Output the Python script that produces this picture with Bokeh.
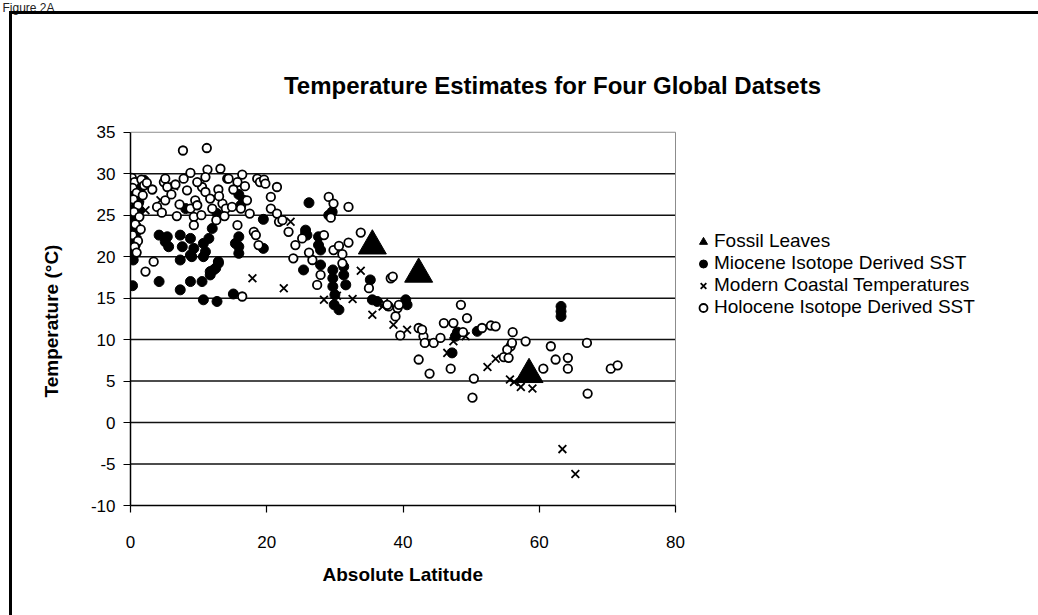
from bokeh.plotting import figure
from bokeh.models import (Range1d, FixedTicker, Label, Legend, LegendItem, Title, InlineStyleSheet,
                          PrintfTickFormatter)
from bokeh.embed import file_html
from bokeh.resources import INLINE

# ---------------- data ----------------
fossil_lat = [35.5, 42.3, 58.5]
fossil_temp = [21.3, 17.9, 5.8]

miocene_lat = [0.3, 0.2, 0.5, 0.3, 0.6, 0.2, 0.8, 0.4, 1.0, 0.6, 1.2, 0.8, 1.4, 1.7, 2.0, 0.4,
               0.1, 0.9, 0.3, 1.1, 0.5, 0.7, 1.3,
               4.2, 5.4, 5.1, 5.6, 7.3, 8.8, 7.6, 9.3, 10.7, 11.5, 11.0, 12.9, 12.5, 11.7, 12.2,
               7.3, 8.8, 9.0, 10.7, 4.2, 7.3, 8.8, 10.5, 10.7, 12.7, 8.1, 12.7, 12.0, 11.7, 12.9,
               15.1, 15.9, 15.9, 15.4, 19.5, 19.5, 15.9, 16.6, 16.2, 15.9,
               25.7, 25.4, 26.2, 29.6, 29.1, 25.7, 25.9, 27.6, 27.6, 27.9, 27.9, 29.7, 29.7, 29.7,
               30.0, 31.3, 31.3, 31.6, 30.6, 29.9,
               35.2, 35.5, 36.2, 40.4, 40.6, 47.7, 48.0, 50.9, 47.2,
               63.2, 63.2, 63.2]
miocene_temp = [16.5, 20.2, 20.9, 21.6, 22.3, 23.0, 23.7, 24.4, 25.1, 25.8, 26.5, 27.1, 27.8, 28.5, 29.2, 19.6,
                24.0, 26.0, 27.6, 23.2, 28.8, 21.4, 25.6,
                22.6, 22.4, 21.8, 21.2, 22.6, 22.2, 21.2, 21.0, 21.6, 22.2, 20.6, 19.4, 18.6, 18.2, 18.4,
                19.6, 20.2, 20.0, 20.0, 17.0, 16.0, 17.0, 17.0, 14.8, 14.6, 25.8, 25.2, 23.4, 17.8, 19.2,
                15.5, 20.4, 22.4, 21.6, 21.0, 24.5, 27.5, 26.8, 26.2, 21.2,
                22.8, 18.4, 26.5, 25.4, 25.0, 23.2, 22.6, 22.4, 21.4, 20.8, 19.0, 18.4, 17.4, 16.4,
                15.4, 18.8, 17.8, 16.6, 13.6, 14.2,
                17.2, 14.8, 14.6, 14.8, 14.2, 10.4, 10.9, 11.0, 8.4,
                14.0, 13.4, 12.8]

modern_lat = [0.3, 1.0, 1.4, 4.4, 6.4, 2.2, 17.9, 22.5, 23.5, 28.4, 33.8, 32.6, 35.5, 37.0, 37.2,
              38.6, 40.6, 46.5, 47.4, 49.2, 52.4, 53.6, 56.3, 57.3, 59.0, 63.4, 65.3, 30.3, 55.7]
modern_temp = [24.5, 22.8, 27.0, 26.8, 28.5, 25.6, 17.4, 16.2, 24.2, 14.8, 18.3, 14.9, 13.0, 14.0, 14.4,
               11.8, 11.2, 8.4, 9.8, 10.4, 6.7, 7.7, 4.9, 4.3, 4.1, -3.2, -6.2, 15.3, 5.2]

holocene_lat = [0.2, 0.6, 0.3, 0.9, 0.4, 1.1, 0.5, 1.3, 0.7, 0.3, 1.1, 0.6, 1.6, 2.0, 1.8, 2.4, 2.2, 3.4, 1.5, 0.9,
                3.2, 3.9, 4.9, 5.1, 5.4, 5.1, 6.6, 7.7, 7.8, 6.0, 7.2, 4.6, 6.8,
                8.8, 11.2, 11.3, 13.2, 10.5, 11.0, 12.9, 9.5, 11.7, 8.8, 9.8, 13.5, 14.0, 9.3, 9.3, 12.0,
                10.4, 12.6, 13.8, 11.0, 14.2, 9.8, 8.3, 13.0,
                14.4, 16.4, 15.7, 18.6, 19.0, 19.6, 19.8, 21.5, 15.1, 17.1, 20.6, 14.9, 16.2, 20.6, 21.5,
                21.8, 22.3, 15.7, 18.1, 18.4, 18.8, 16.4, 17.5, 16.8,
                24.2, 23.9, 25.2, 28.4, 29.1, 29.8, 32.0, 29.4, 26.7, 27.9, 27.4, 23.2, 26.2,
                33.8, 32.0, 29.8, 31.1, 31.1, 35.0, 38.2, 38.5, 37.9, 39.2, 37.7, 39.4, 38.9, 39.6,
                42.3, 43.0, 42.8, 43.2, 44.5, 45.5, 42.3, 43.9, 30.6,
                48.5, 49.4, 46.0, 47.4, 47.0, 50.4, 50.2, 51.6, 52.9, 56.1, 58.0, 61.7, 67.0, 55.8,
                55.3, 54.8, 55.5, 56.0, 62.4, 64.2, 64.2, 60.6, 70.5, 71.5, 67.1, 48.8, 53.6]
holocene_temp = [29.5, 29.0, 28.3, 27.7, 26.9, 26.2, 25.4, 24.8, 23.9, 22.6, 21.9, 21.2, 29.3, 28.6, 27.4, 28.9, 18.2, 19.4, 23.3, 20.5,
                 28.1, 26.0, 29.0, 29.4, 28.4, 26.8, 28.7, 32.8, 29.4, 27.5, 26.3, 25.3, 24.9,
                 30.1, 33.1, 30.5, 30.6, 28.4, 27.8, 28.1, 26.8, 27.0, 25.8, 26.2, 26.4, 25.8, 24.8, 23.8, 25.8,
                 25.0, 24.4, 24.9, 29.6, 29.4, 29.0, 28.0, 27.3,
                 29.4, 29.9, 29.0, 29.4, 29.0, 29.3, 28.8, 28.4, 28.1, 26.8, 27.2, 26.0, 25.8, 25.8, 25.2,
                 24.2, 24.4, 23.8, 23.0, 22.6, 21.4, 15.2, 25.2, 28.5,
                 21.4, 19.8, 22.2, 22.6, 27.2, 26.4, 26.0, 24.7, 19.6, 17.8, 16.6, 23.0, 20.5,
                 22.9, 21.7, 20.8, 20.3, 19.2, 16.2, 17.4, 17.6, 14.0, 13.8, 14.2, 14.2, 12.8, 10.5,
                 11.4, 10.4, 11.2, 9.6, 9.6, 10.2, 7.6, 5.9, 21.3,
                 14.2, 12.6, 12.0, 12.0, 6.5, 5.3, 3.0, 11.4, 11.7, 10.9, 9.8, 9.2, 9.6, 9.2,
                 8.8, 7.9, 7.8, 9.6, 7.6, 7.8, 6.5, 6.5, 6.5, 6.9, 3.5, 10.9, 11.6]

x_ticks = [0, 20, 40, 60, 80]
y_ticks = [-10, -5, 0, 5, 10, 15, 20, 25, 30, 35]
grid_ticks = [-5, 0, 5, 10, 15, 20, 25, 30]

title_text = "Temperature Estimates for Four Global Datsets"
x_title = "Absolute Latitude"
y_title = "Temperature (\u00b0C)"
figure_tag = "Figure 2A"
series_names = ["Fossil Leaves", "Miocene Isotope Derived SST",
                "Modern Coastal Temperatures", "Holocene Isotope Derived SST"]

# ---------------- layout (pixels) ----------------
W, H = 1038, 615
PL, PR, PT, PB = 130, 675, 131, 505      # plot-area edges in the reference
TOP_PANEL = 15                           # height of the small tag panel above the frame
FONT = "Liberation Sans"

xs = (PR - PL) / (x_ticks[-1] - x_ticks[0])
ys = (PB - PT) / (y_ticks[-1] - y_ticks[0])
x_end = x_ticks[-1] + (W - PR) / xs
y_end = y_ticks[-1] + (PT - TOP_PANEL) / ys

frame_css = InlineStyleSheet(css="""
:host { position: relative; }
:host::after { content: ""; position: absolute; left: 9px; top: 11px; width: 1029px; height: 604px;
  border-left: 3px solid #000; border-top: 3px solid #000; box-sizing: border-box; pointer-events: none; }
""")

p = figure(width=W, height=H, output_backend="svg", toolbar_location=None,
           x_range=Range1d(x_ticks[0], x_end), y_range=Range1d(y_ticks[0], y_end),
           min_border_left=PL, min_border_right=0, min_border_top=0, min_border_bottom=H - PB)
p.stylesheets = [frame_css]
p.background_fill_color = "white"
p.border_fill_color = "white"
p.outline_line_color = None

# axes
for ax in (p.xaxis[0], p.yaxis[0]):
    ax.axis_line_color = "black"
    ax.axis_line_width = 1.5
    ax.major_tick_line_color = "black"
    ax.major_tick_line_width = 1.2
    ax.major_tick_in = 0
    ax.major_tick_out = 7
    ax.minor_tick_line_color = None
    ax.major_label_text_font = FONT
    ax.major_label_text_font_size = "17px"
    ax.major_label_text_color = "black"

p.xaxis.ticker = FixedTicker(ticks=x_ticks)
p.yaxis.ticker = FixedTicker(ticks=y_ticks)
p.yaxis.formatter = PrintfTickFormatter(format="%d")
p.xaxis.bounds = (x_ticks[0], x_ticks[-1])
p.yaxis.bounds = (y_ticks[0], y_ticks[-1])
p.xaxis.major_label_standoff = 23
p.yaxis.major_label_standoff = 8
p.xgrid.grid_line_color = None
p.ygrid.grid_line_color = None

# axis titles, centred on the plot area (not on the wider frame)
p.add_layout(Title(text=y_title, align="left", offset=108, vertical_align="bottom", standoff=52,
                   text_font=FONT, text_font_style="bold", text_font_size="19px",
                   text_color="black"), "left")
p.add_layout(Title(text=x_title, align="left", offset=192, vertical_align="top", standoff=27,
                   text_font=FONT, text_font_style="bold", text_font_size="19px",
                   text_color="black"), "below")

# plot-area grid lines and border (limited to the axis extents)
n = len(grid_ticks)
p.segment(x0=[x_ticks[0]] * n, x1=[x_ticks[-1]] * n, y0=grid_ticks, y1=grid_ticks,
          line_color="#111111", line_width=1.5)
p.quad(left=[x_ticks[0]], right=[x_ticks[-1]], bottom=[y_ticks[0]], top=[y_ticks[-1]],
       fill_color=None, line_color="#8c8c8c", line_width=1)

# series
r_mio = p.scatter(miocene_lat, miocene_temp, marker="circle", size=10,
                  fill_color="black", line_color="black", line_width=1)
r_mod = p.scatter(modern_lat, modern_temp, marker="x", size=11,
                  line_color="black", line_width=1.8)
r_hol = p.scatter(holocene_lat, holocene_temp, marker="circle", size=8.5,
                  fill_color="white", line_color="black", line_width=1.8)
r_fos = p.scatter(fossil_lat, fossil_temp, marker="triangle", size=28,
                  fill_color="black", line_color="black", line_width=1)

legend = Legend(items=[LegendItem(label=series_names[0], renderers=[r_fos]),
                       LegendItem(label=series_names[1], renderers=[r_mio]),
                       LegendItem(label=series_names[2], renderers=[r_mod]),
                       LegendItem(label=series_names[3], renderers=[r_hol])],
                location=(693 - PL, PB - 318), orientation="vertical")
legend.background_fill_alpha = 0
legend.border_line_color = None
legend.margin = 0
legend.padding = 0
legend.spacing = 0
legend.glyph_width = 20
legend.glyph_height = 21
legend.label_height = 21
legend.label_standoff = 1
legend.label_text_font = FONT
legend.label_text_font_size = "19px"
legend.label_text_color = "black"
p.add_layout(legend)

# chart title (screen units: from frame left / frame bottom)
p.add_layout(Label(x=552 - PL, y=PB - 85, x_units="screen", y_units="screen", text=title_text,
                   text_align="center", text_baseline="middle", text_font=FONT,
                   text_font_style="bold", text_font_size="24px", text_color="black"))

# small figure tag at the very top-left
p.add_layout(Title(text=figure_tag, align="left", offset=2 - PL, standoff=0, vertical_align="top",
                   text_font=FONT, text_font_style="normal", text_font_size="12px",
                   text_color="#222222"), "above")

open("out.html", "w").write(file_html(p, INLINE))
